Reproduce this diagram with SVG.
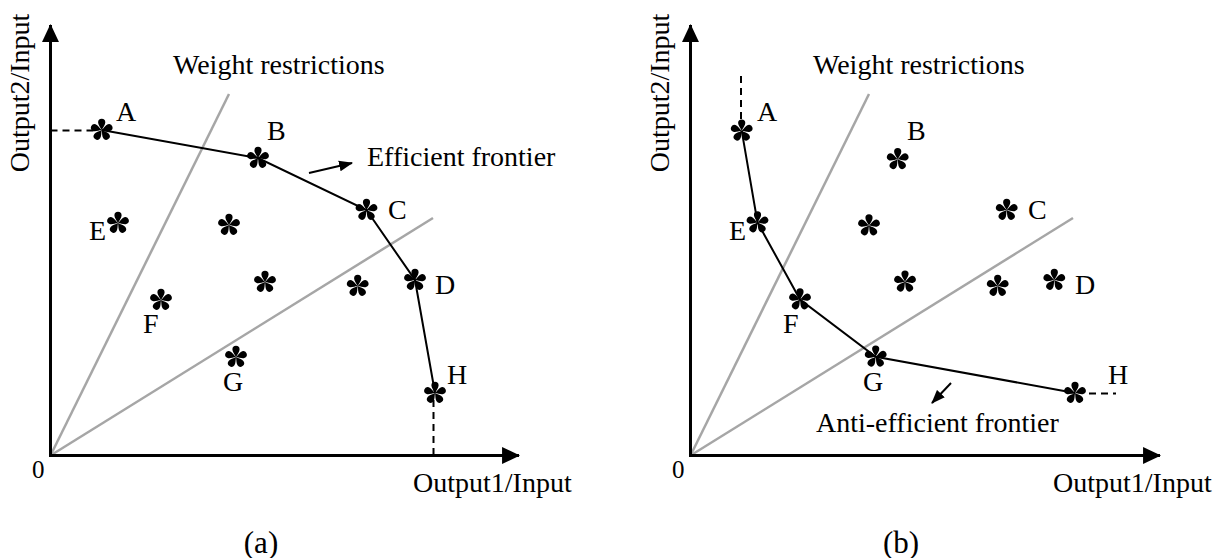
<svg xmlns="http://www.w3.org/2000/svg" xmlns:xlink="http://www.w3.org/1999/xlink" width="1224" height="558" viewBox="0 0 1224 558">
<style>
text{font-family:"Liberation Serif","Times New Roman",serif;fill:#000}
.lbl{font-size:28px}
.ax{font-size:28px}
.zero{font-size:25px}
.cap{font-size:31px;text-anchor:middle}
.axis{stroke:#000;stroke-width:3;fill:none}
.front{stroke:#000;stroke-width:2;fill:none}
.wr{stroke:#a6a6a6;stroke-width:2.5;fill:none}
.dash{stroke:#000;stroke-width:2;stroke-dasharray:7,5;fill:none}
.ptr{stroke:#000;stroke-width:2;fill:none}
</style>
<defs>
<marker id="axhead" markerUnits="userSpaceOnUse" markerWidth="18" markerHeight="18" viewBox="0 -8 17 16" refX="16" refY="0" orient="auto">
<path d="M0,-8 L17,0 L0,8 Z" fill="#000"/>
</marker>
<marker id="ptrhead" markerUnits="userSpaceOnUse" markerWidth="14" markerHeight="12" viewBox="0 -5 13 10" refX="12" refY="0" orient="auto">
<path d="M0,-5 L13,0 L0,5 Z" fill="#000"/>
</marker>
<path id="petal" d="M0,0 C-1.2,-2.6 -3.6,-5.2 -3.6,-7.6 A3.6,3.6 0 0 1 3.6,-7.6 C3.6,-5.2 1.2,-2.6 0,0 Z" fill="#000"/>
<g id="star">
<use xlink:href="#petal"/>
<use xlink:href="#petal" transform="rotate(72)"/>
<use xlink:href="#petal" transform="rotate(144)"/>
<use xlink:href="#petal" transform="rotate(216)"/>
<use xlink:href="#petal" transform="rotate(288)"/>
</g>
</defs>
<rect width="1224" height="558" fill="#fff"/>

<g id="connectors">
<!-- panel a -->
<line class="wr" x1="50.5" y1="455.5" x2="229" y2="94"/>
<line class="wr" x1="50.5" y1="455.5" x2="433" y2="218"/>
<polyline class="front" points="101.7,130 258,158 366.5,210 415,280 435,393"/>
<line class="dash" x1="50.5" y1="130.5" x2="95" y2="130.5"/>
<line class="dash" x1="433.5" y1="400" x2="433.5" y2="455"/>
<line class="ptr" x1="309" y1="173" x2="352" y2="163" marker-end="url(#ptrhead)"/>
<line class="axis" x1="50.5" y1="455.5" x2="50.5" y2="25" marker-end="url(#axhead)"/>
<line class="axis" x1="49" y1="455.5" x2="519" y2="455.5" marker-end="url(#axhead)"/>
<!-- panel b -->
<line class="wr" x1="690.5" y1="455.5" x2="869" y2="94"/>
<line class="wr" x1="690.5" y1="455.5" x2="1073" y2="218"/>
<polyline class="front" points="741.7,130.7 757.5,222.5 800,299.5 875.7,356.7 1075,393"/>
<line class="dash" x1="741" y1="76" x2="741" y2="122"/>
<line class="dash" x1="1089" y1="393.5" x2="1116" y2="393.5"/>
<line class="ptr" x1="951" y1="383" x2="932" y2="403" marker-end="url(#ptrhead)"/>
<line class="axis" x1="690.5" y1="455.5" x2="690.5" y2="25" marker-end="url(#axhead)"/>
<line class="axis" x1="689" y1="455.5" x2="1160" y2="455.5" marker-end="url(#axhead)"/>
</g>

<g id="panel-a-text">
<text class="ax" transform="translate(29,93) rotate(-90)" text-anchor="middle">Output2/Input</text>
<text class="ax" x="413" y="492">Output1/Input</text>
<text class="zero" x="32" y="478">0</text>
<text class="lbl" x="173" y="74">Weight restrictions</text>
<text class="lbl" x="367" y="166">Efficient frontier</text>
<text class="cap" x="261" y="553">(a)</text>
</g>

<g id="a-A"><use xlink:href="#star" x="101.7" y="130"/><text class="lbl" x="116" y="121">A</text></g>
<g id="a-B"><use xlink:href="#star" x="258" y="158"/><text class="lbl" x="267" y="140">B</text></g>
<g id="a-C"><use xlink:href="#star" x="366.5" y="210"/><text class="lbl" x="388" y="219">C</text></g>
<g id="a-D"><use xlink:href="#star" x="415" y="280"/><text class="lbl" x="435" y="294">D</text></g>
<g id="a-E"><use xlink:href="#star" x="118" y="223"/><text class="lbl" x="89" y="240">E</text></g>
<g id="a-F"><use xlink:href="#star" x="161" y="300"/><text class="lbl" x="143" y="333">F</text></g>
<g id="a-G"><use xlink:href="#star" x="236" y="357"/><text class="lbl" x="223" y="391">G</text></g>
<g id="a-H"><use xlink:href="#star" x="435" y="393"/><text class="lbl" x="447" y="384">H</text></g>
<g id="a-P1"><use xlink:href="#star" x="229" y="225"/></g>
<g id="a-P2"><use xlink:href="#star" x="265" y="282"/></g>
<g id="a-P3"><use xlink:href="#star" x="357.7" y="286"/></g>

<g id="panel-b-text">
<text class="ax" transform="translate(669,93) rotate(-90)" text-anchor="middle">Output2/Input</text>
<text class="ax" x="1053" y="492">Output1/Input</text>
<text class="zero" x="672" y="478">0</text>
<text class="lbl" x="813" y="74">Weight restrictions</text>
<text class="lbl" x="816" y="432">Anti-efficient frontier</text>
<text class="cap" x="901" y="553">(b)</text>
</g>

<g id="b-A"><use xlink:href="#star" x="741.7" y="130.7"/><text class="lbl" x="757" y="121">A</text></g>
<g id="b-B"><use xlink:href="#star" x="897.7" y="159.3"/><text class="lbl" x="907" y="140">B</text></g>
<g id="b-C"><use xlink:href="#star" x="1006.7" y="210"/><text class="lbl" x="1028" y="219">C</text></g>
<g id="b-D"><use xlink:href="#star" x="1054.3" y="280"/><text class="lbl" x="1075" y="294">D</text></g>
<g id="b-E"><use xlink:href="#star" x="757.5" y="222.5"/><text class="lbl" x="729" y="240">E</text></g>
<g id="b-F"><use xlink:href="#star" x="800" y="299.5"/><text class="lbl" x="783" y="333">F</text></g>
<g id="b-G"><use xlink:href="#star" x="875.7" y="356.7"/><text class="lbl" x="863" y="391">G</text></g>
<g id="b-H"><use xlink:href="#star" x="1075" y="393"/><text class="lbl" x="1108" y="384">H</text></g>
<g id="b-P1"><use xlink:href="#star" x="869" y="225.5"/></g>
<g id="b-P2"><use xlink:href="#star" x="905" y="281.7"/></g>
<g id="b-P3"><use xlink:href="#star" x="997.7" y="286"/></g>
</svg>
